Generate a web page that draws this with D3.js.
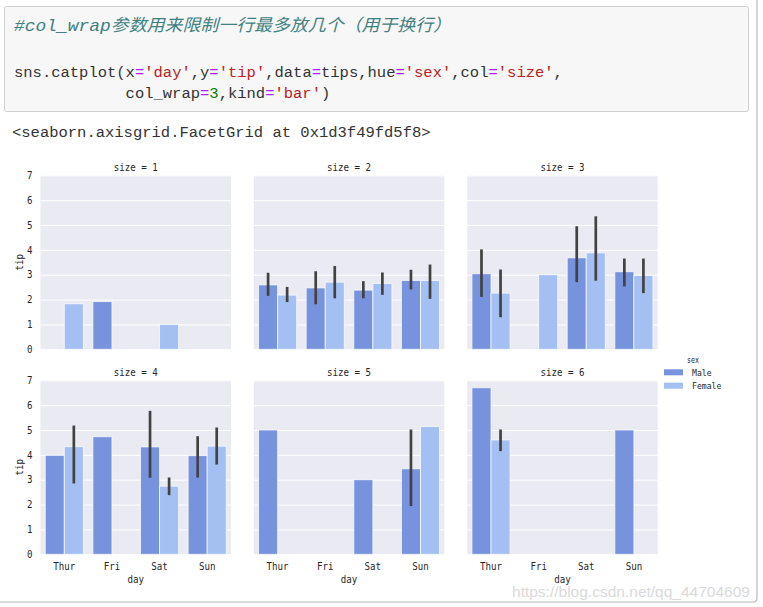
<!DOCTYPE html>
<html><head><meta charset="utf-8">
<script src="https://cdn.jsdelivr.net/npm/d3@7"></script>
<style>
html,body{margin:0;padding:0;background:#fff;}
svg{display:block;}
</style></head>
<body>
<script>
// ---------- data ----------
const days = ["Thur", "Fri", "Sat", "Sun"];
const sexes = ["Male", "Female"];
const sizes = [1, 2, 3, 4, 5, 6];
const yTicks = [0, 1, 2, 3, 4, 5, 6, 7];

// mean tip by size (rows) and day (cols); null = no data
const maleTip = [
  [null, 1.92, null, null],
  [2.59, 2.47, 2.38, 2.77],
  [3.04, null, 3.68, 3.12],
  [3.98, 4.73, 4.32, 3.97],
  [5.00, null, 3.00, 3.44],
  [6.70, null, null, 5.00]
];
const femaleTip = [
  [1.83, null, 1.00, null],
  [2.18, 2.70, 2.65, 2.77],
  [2.26, 3.00, 3.88, 2.97],
  [4.33, null, 2.74, 4.35],
  [null, null, null, 5.14],
  [4.60, null, null, null]
];
// confidence intervals [low, high]
const maleCI = [
  [null, null, null, null],
  [[2.15, 3.08], [1.81, 3.14], [2.05, 2.74], [2.41, 3.20]],
  [[2.11, 4.02], null, [2.70, 4.95], [2.53, 3.65]],
  [null, null, [3.08, 5.77], [3.09, 4.75]],
  [null, null, null, [1.94, 5.02]],
  [null, null, null, null]
];
const femaleCI = [
  [null, null, null, null],
  [[1.90, 2.51], [2.05, 3.35], [2.19, 3.09], [2.03, 3.41]],
  [[1.29, 3.21], null, [2.76, 5.35], [2.26, 3.65]],
  [[2.85, 5.18], null, [2.38, 3.09], [3.61, 5.10]],
  [null, null, null, null],
  [[4.15, 5.02], null, null, null]
];

// ---------- layout ----------
const W = 763, H = 607;
const svg = d3.select("body").append("svg").attr("width", W).attr("height", H);

const MONO = "'Liberation Mono','DejaVu Sans Mono','Noto Sans CJK SC',monospace";
const CHART_FONT = "'DejaVu Sans Mono','Noto Sans CJK SC',monospace";

// notebook frame
svg.append("path")
  .attr("d", "M757,0 L757,598 Q757,602 753,602 L0,602")
  .attr("fill", "none").attr("stroke", "#b8b8b8").attr("stroke-width", 1.2);

// code cell
svg.append("rect").attr("x", 4.5).attr("y", 6.5).attr("width", 744).attr("height", 105)
  .attr("rx", 2).attr("fill", "#f7f7f7").attr("stroke", "#cfcfcf");

const CW = 9.3; // width of a half-width character column (0.6em at 15.5px)
function codeLine(tokens, x0, baseline) {
  const t = svg.append("text")
    .attr("x", x0).attr("y", baseline)
    .style("font-family", MONO).style("font-size", "15.5px");
  tokens.forEach(([txt, color]) => { t.append("tspan").attr("fill", color).text(txt); });
}
const C_TXT = "#333333", C_OP = "#aa22ff", C_STR = "#ba2121", C_NUM = "#008000", C_COM = "#408080";
// comment line (contains full-width characters, fit to its column width)
svg.append("text").attr("x", 14).attr("y", 31)
  .attr("textLength", 47 * CW).attr("lengthAdjust", "spacingAndGlyphs")
  .style("font-family", MONO).style("font-size", "17px").style("font-style", "italic")
  .attr("fill", C_COM).text("#col_wrap参数用来限制一行最多放几个（用于换行）");
codeLine([["sns.catplot(x", C_TXT], ["=", C_OP], ["'day'", C_STR], [",y", C_TXT], ["=", C_OP],
  ["'tip'", C_STR], [",data", C_TXT], ["=", C_OP], ["tips,hue", C_TXT], ["=", C_OP], ["'sex'", C_STR],
  [",col", C_TXT], ["=", C_OP], ["'size'", C_STR], [",", C_TXT]], 14, 77);
codeLine([["col_wrap", C_TXT], ["=", C_OP], ["3", C_NUM], [",kind", C_TXT], ["=", C_OP], ["'bar'", C_STR], [")", C_TXT]],
  14 + 12 * CW, 98);
codeLine([["<seaborn.axisgrid.FacetGrid at 0x1d3f49fd5f8>", C_TXT]], 12, 137);

// ---------- facet grid ----------
const panelW = 190.5, panelH = 174;
const colLeft = [40.5, 253.8, 467.2];
const rowTop = [175.3, 380.3];
const colors = { Male: "#7893de", Female: "#a4bff2" };
const CH = 5.5; // chart char width

const y = d3.scaleLinear().domain([0, 7]).range([panelH, 0]);
const x = d3.scaleBand().domain(days).range([0, panelW]);
const hue = d3.scaleBand().domain(sexes).range([0.1 * x.bandwidth(), 0.9 * x.bandwidth()]);

function fitText(sel, fs) {
  sel.each(function () {
    const t = d3.select(this);
    const n = t.text().length;
    t.attr("textLength", n * CH).attr("lengthAdjust", "spacingAndGlyphs")
      .style("font-family", CHART_FONT).style("font-size", fs + "px").attr("fill", "#262626");
  });
}

sizes.forEach((s, i) => {
  const r = Math.floor(i / 3), c = i % 3;
  const g = svg.append("g").attr("transform", `translate(${colLeft[c]},${rowTop[r]})`);
  g.append("rect").attr("width", panelW).attr("height", panelH).attr("fill", "#eaeaf2");

  // grid
  const grid = g.append("g").call(d3.axisLeft(y).tickValues(yTicks).tickSize(-panelW).tickFormat(""));
  grid.select(".domain").remove();
  grid.selectAll("line").attr("stroke", "#ffffff").attr("stroke-width", 1);

  // bars
  const series = [["Male", maleTip[i], maleCI[i]], ["Female", femaleTip[i], femaleCI[i]]];
  series.forEach(([sex, vals]) => {
    days.forEach((d, j) => {
      const v = vals[j];
      if (v == null) return;
      g.append("rect")
        .attr("x", x(d) + hue(sex)).attr("width", hue.bandwidth())
        .attr("y", y(v)).attr("height", y(0) - y(v))
        .attr("fill", colors[sex]).attr("stroke", "#ffffff").attr("stroke-opacity", 0.7).attr("stroke-width", 1);
    });
  });
  series.forEach(([sex, vals, cis]) => {
    days.forEach((d, j) => {
      const ci = cis[j];
      if (ci == null) return;
      const cx = x(d) + hue(sex) + hue.bandwidth() / 2;
      g.append("line").attr("x1", cx).attr("x2", cx).attr("y1", y(ci[0])).attr("y2", y(ci[1]))
        .attr("stroke", "#424242").attr("stroke-width", 2.7);
    });
  });

  // title
  const title = g.append("text").attr("x", panelW / 2).attr("y", -4.5).attr("text-anchor", "middle")
    .text("size = " + s);
  fitText(title, 10);

  // y axis
  if (c === 0) {
    const ya = g.append("g").call(d3.axisLeft(y).tickValues(yTicks).tickSize(0).tickPadding(8).tickFormat(d3.format("d")));
    ya.select(".domain").remove();
    fitText(ya.selectAll("text"), 10);
    const yl = g.append("text").attr("transform", `translate(-18,${panelH / 2}) rotate(-90)`)
      .attr("text-anchor", "middle").text("tip");
    fitText(yl, 10.5);
  }
  // x axis
  if (r === 1) {
    const xa = g.append("g").attr("transform", `translate(0,${panelH})`)
      .call(d3.axisBottom(x).tickSize(0).tickPadding(9));
    xa.select(".domain").remove();
    fitText(xa.selectAll("text"), 10);
    const xl = g.append("text").attr("x", panelW / 2).attr("y", panelH + 28.5).attr("text-anchor", "middle").text("day");
    fitText(xl, 10.5);
  }
});

// legend
const lg = svg.append("g");
const lt = lg.append("text").attr("x", 693).attr("y", 363).attr("text-anchor", "middle").text("sex");
fitText(lt, 9);
lt.attr("textLength", 12);
sexes.forEach((sx, k) => {
  const yy = 369.3 + k * 13.4;
  lg.append("rect").attr("x", 664).attr("y", yy).attr("width", 19).attr("height", 6).attr("fill", colors[sx]);
  const t = lg.append("text").attr("x", 692).attr("y", yy + 6.5).text(sx);
  fitText(t, 9.5);
  t.attr("textLength", sx.length * 4.9);
});

// watermark
svg.append("text").attr("x", 512).attr("y", 597).attr("textLength", 238).attr("lengthAdjust", "spacingAndGlyphs")
  .style("font-family", "'Liberation Sans',Arial,sans-serif").style("font-size", "15px")
  .attr("fill", "#dadada").text("https://blog.csdn.net/qq_44704609");
</script>
</body></html>
